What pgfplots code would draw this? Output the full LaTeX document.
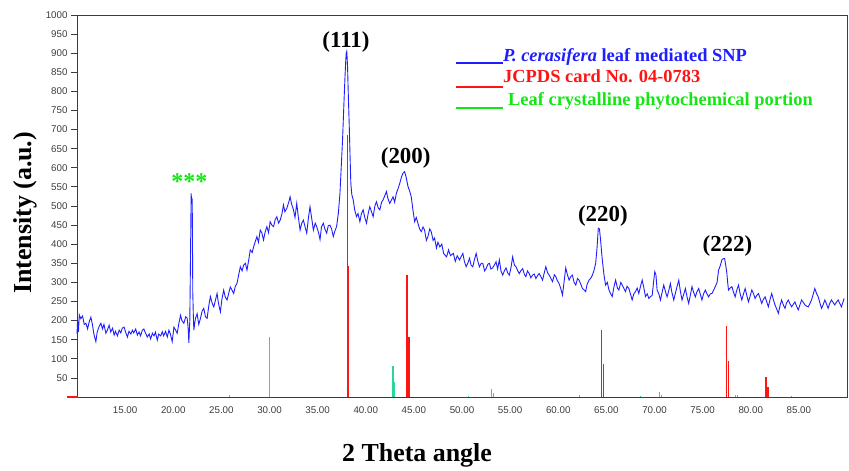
\documentclass[border=0pt]{standalone}
\usepackage{pgfplots}
\pgfplotsset{compat=1.18}
\usepackage{fontspec}
\setmainfont{Liberation Serif}
\newfontfamily\arial{Liberation Sans}
\definecolor{xrdblue}{RGB}{30,30,255}
\definecolor{jcred}{RGB}{255,20,20}
\definecolor{leafteal}{RGB}{40,215,150}
\definecolor{leafgreen}{RGB}{20,230,20}
\definecolor{axgray}{RGB}{60,60,60}
\begin{document}
\begin{tikzpicture}
\path[use as bounding box] (-77bp,-74bp) rectangle (772bp,397bp);
\begin{axis}[
    at={(0,0)}, anchor=south west,
    scale only axis, width=770bp, height=382bp,
    xmin=10, xmax=90, ymin=0, ymax=1000,
    xtick={15,20,...,85}, ytick={50,100,...,1000},
    clip=false,
    axis line style={draw=axgray, line width=0.8bp},
    tick align=outside, ytick pos=left, xtick pos=bottom,
    major tick length=6bp,
    ytick style={axgray, line width=0.8bp},
    xtick style={draw=none},
    /pgf/number format/assume math mode=true,
    /pgf/number format/1000 sep={},
    tick label style={font=\arial\fontsize{9.8}{11}\selectfont, text=axgray},
    xticklabel style={/pgf/number format/.cd, fixed, fixed zerofill, precision=2},
    xlabel={\textbf{2 Theta angle}},
    ylabel={\textbf{Intensity (a.u.)}},
    label style={font=\fontsize{26}{28}\selectfont},
    xlabel style={at={(axis description cs:0.4416,-0.152)}, anchor=center},
    ylabel style={at={(axis description cs:-0.0675,0.482)}, anchor=center},
]

% P. cerasifera leaf mediated SNP
\addplot[xrdblue, line width=0.9bp] coordinates {
(10.0,165)(10.06,201)(10.15,170)(10.24,215)(10.4,205)(10.58,212)(10.75,190)(10.93,193)
(11.1,178)(11.25,195)(11.44,209)(11.6,190)(11.75,165)(11.96,145)(12.1,170)(12.3,185)
(12.48,193)(12.65,178)(12.8,190)(13.0,167)(13.15,175)(13.34,188)(13.5,170)(13.7,180)
(13.86,162)(14.0,172)(14.2,160)(14.38,175)(14.55,168)(14.7,180)(14.89,183)(15.05,170)
(15.24,157)(15.4,172)(15.6,165)(15.76,175)(15.9,168)(16.1,178)(16.27,162)(16.45,170)
(16.6,160)(16.79,175)(16.95,178)(17.1,168)(17.31,157)(17.5,165)(17.65,152)(17.83,167)
(18.0,160)(18.15,170)(18.34,149)(18.5,165)(18.7,160)(18.86,171)(19.0,160)(19.2,172)
(19.38,157)(19.55,175)(19.7,165)(19.89,145)(20.07,183)(20.25,175)(20.41,167)(20.6,195)
(20.76,214)(20.9,200)(21.1,193)(21.3,210)(21.45,206)(21.55,180)(21.62,142)(21.72,200)
(21.79,358)(21.86,533)(21.92,505)(21.97,520)(22.03,272)(22.08,220)(22.14,175)(22.3,205)
(22.48,218)(22.65,190)(22.83,206)(23.0,225)(23.17,232)(23.35,210)(23.52,206)(23.7,240)
(23.86,263)(24.05,245)(24.21,236)(24.4,255)(24.55,271)(24.7,245)(24.9,223)(25.05,255)
(25.24,280)(25.4,262)(25.59,254)(25.75,270)(25.93,288)(26.1,280)(26.28,271)(26.45,290)
(26.62,297)(26.8,320)(26.97,341)(27.15,330)(27.31,345)(27.5,350)(27.66,332)(27.85,360)
(28.0,385)(28.2,378)(28.35,393)(28.5,405)(28.69,420)(28.85,405)(29.04,437)(29.2,430)
(29.38,411)(29.55,432)(29.73,446)(29.9,430)(30.07,459)(30.25,450)(30.42,446)(30.6,465)
(30.76,472)(30.95,455)(31.11,463)(31.3,480)(31.45,503)(31.6,485)(31.8,494)(32.0,510)
(32.14,524)(32.3,505)(32.49,490)(32.65,470)(32.83,507)(33.0,470)(33.18,437)(33.35,455)
(33.52,463)(33.7,445)(33.87,429)(34.05,470)(34.21,498)(34.4,465)(34.56,437)(34.75,455)
(34.9,446)(35.1,430)(35.25,412)(35.4,445)(35.59,455)(35.75,440)(35.94,429)(36.1,448)
(36.28,450)(36.45,440)(36.63,420)(36.8,435)(36.97,446)(37.15,480)(37.32,533)(37.45,600)
(37.59,673)(37.72,760)(37.83,830)(37.92,880)(37.97,900)(38.03,905)(38.11,865)(38.2,780)
(38.28,716)(38.36,640)(38.45,559)(38.55,530)(38.7,516)(38.85,490)(39.04,472)(39.2,480)
(39.39,459)(39.55,480)(39.73,490)(39.9,470)(40.08,455)(40.25,480)(40.42,498)(40.6,485)
(40.77,472)(40.95,500)(41.11,511)(41.3,495)(41.46,490)(41.65,510)(41.8,516)(41.95,525)
(42.15,538)(42.3,520)(42.49,507)(42.65,515)(42.84,524)(43.0,510)(43.18,533)(43.35,545)
(43.53,559)(43.7,575)(43.87,586)(44.04,590)(44.2,575)(44.39,551)(44.55,540)(44.73,524)
(44.9,490)(45.08,459)(45.25,470)(45.42,455)(45.6,440)(45.77,433)(45.95,445)(46.11,437)
(46.3,410)(46.46,420)(46.65,440)(46.8,433)(47.0,410)(47.15,416)(47.35,390)(47.5,405)
(47.7,393)(47.9,400)(48.1,375)(48.4,367)(48.6,385)(48.8,370)(49.1,376)(49.3,355)
(49.5,370)(49.74,359)(50.09,376)(50.25,355)(50.43,341)(50.6,350)(50.78,363)(50.95,345)
(51.12,341)(51.3,360)(51.47,376)(51.65,355)(51.81,341)(52.0,350)(52.16,350)(52.35,330)
(52.5,336)(52.7,348)(52.85,350)(53.0,335)(53.19,338)(53.35,345)(53.54,354)(53.7,335)
(53.88,359)(54.05,330)(54.23,319)(54.4,330)(54.57,338)(54.75,325)(54.92,319)(55.1,340)
(55.26,367)(55.45,345)(55.61,341)(55.8,330)(55.95,323)(56.1,330)(56.3,336)(56.5,320)
(56.64,315)(56.8,330)(56.99,323)(57.15,312)(57.33,319)(57.5,322)(57.68,310)(57.85,318)
(58.02,323)(58.2,315)(58.37,306)(58.55,325)(58.71,341)(58.9,325)(59.06,319)(59.25,310)
(59.4,302)(59.6,320)(59.75,315)(59.9,305)(60.09,297)(60.25,285)(60.44,267)(60.6,300)
(60.78,338)(60.95,320)(61.13,306)(61.3,315)(61.47,319)(61.65,300)(61.82,293)(62.0,310)
(62.16,306)(62.35,295)(62.51,284)(62.7,280)(62.85,276)(63.0,295)(63.2,306)(63.4,312)
(63.54,319)(63.7,330)(63.89,350)(64.03,390)(64.16,442)(64.28,440)(64.4,411)(64.5,380)
(64.58,359)(64.75,320)(64.92,293)(65.1,300)(65.27,280)(65.45,270)(65.61,263)(65.8,290)
(65.96,306)(66.15,285)(66.3,280)(66.5,300)(66.65,293)(66.8,285)(66.99,276)(67.15,290)
(67.34,284)(67.5,270)(67.68,254)(67.85,270)(68.03,276)(68.2,285)(68.37,271)(68.55,290)
(68.72,306)(68.9,285)(69.06,263)(69.25,270)(69.41,258)(69.6,263)(69.76,266)(69.9,300)
(70.03,328)(70.15,320)(70.27,280)(70.45,270)(70.62,254)(70.8,275)(70.96,293)(71.15,275)
(71.31,262)(71.5,280)(71.65,297)(71.8,275)(72.0,254)(72.25,280)(72.52,306)(72.7,275)
(72.86,254)(73.05,270)(73.21,284)(73.4,260)(73.55,245)(73.75,270)(73.9,289)(74.05,275)
(74.24,262)(74.4,275)(74.59,284)(74.75,270)(74.93,254)(75.1,270)(75.28,280)(75.45,270)
(75.62,262)(75.8,270)(75.97,271)(76.15,280)(76.31,289)(76.5,300)(76.66,332)(76.85,345)
(77.0,359)(77.15,362)(77.28,363)(77.4,345)(77.52,324)(77.6,300)(77.69,280)(77.85,285)
(78.04,289)(78.2,275)(78.38,262)(78.55,280)(78.73,293)(78.9,270)(79.07,254)(79.25,270)
(79.42,284)(79.6,265)(79.76,249)(79.95,265)(80.11,280)(80.3,270)(80.45,258)(80.6,265)
(80.8,271)(80.95,260)(81.14,245)(81.3,255)(81.49,262)(81.65,250)(81.83,236)(82.0,255)
(82.18,271)(82.35,255)(82.52,241)(82.7,230)(82.87,219)(83.05,240)(83.21,254)(83.4,240)
(83.56,232)(83.7,245)(83.9,254)(84.05,245)(84.25,236)(84.4,242)(84.59,249)(84.75,238)
(84.94,228)(85.1,240)(85.28,254)(85.45,248)(85.63,241)(85.8,238)(85.97,236)(86.15,245)
(86.32,254)(86.5,270)(86.66,284)(86.85,270)(87.01,262)(87.2,245)(87.35,232)(87.5,240)
(87.7,254)(87.85,245)(88.04,232)(88.2,245)(88.39,254)(88.55,248)(88.73,241)(88.9,248)
(89.08,254)(89.25,245)(89.42,236)(89.6,250)(89.7,258)
};

% JCPDS card No. 04-0783
\addplot[jcred, line width=1.4bp, ycomb] coordinates {
(38.12,686)(38.22,343)(44.28,319)(44.49,158)(64.47,175)(64.68,86)
(77.45,186)(77.66,94)(81.59,53)(81.8,27)
};
\addplot[jcred, line width=2.5bp] coordinates {(9.0,0)(10.1,0)};

% Leaf crystalline phytochemical portion
\addplot[leafteal, line width=1.2bp, ycomb] coordinates {
(25.86,5)(30.0,156)(42.84,81)(42.94,40)(50.67,3)(53.09,20)(53.26,10)
(62.24,6)(68.55,3)(70.52,14)(70.7,6)(78.38,6)(78.6,4)(84.25,3)
};

% peak labels
\node[font=\bfseries\fontsize{23}{24}\selectfont] at (axis cs:37.95,929) {(111)};
\node[font=\bfseries\fontsize{23}{24}\selectfont] at (axis cs:44.15,626) {(200)};
\node[font=\bfseries\fontsize{23}{24}\selectfont] at (axis cs:64.64,474) {(220)};
\node[font=\bfseries\fontsize{23}{24}\selectfont] at (axis cs:77.58,395) {(222)};
\node[anchor=base, text=leafgreen, font=\bfseries\fontsize{24}{26}\selectfont] at (axis cs:21.67,542) {***};

% legend
\draw[xrdblue, line width=1.5bp] (rel axis cs:0.4922,0.8743) -- (rel axis cs:0.5532,0.8743);
\draw[jcred, line width=1.5bp] (rel axis cs:0.4922,0.8115) -- (rel axis cs:0.5532,0.8115);
\draw[leafgreen, line width=1.5bp] (rel axis cs:0.4922,0.7565) -- (rel axis cs:0.5532,0.7565);
\node[anchor=base west, inner sep=0, text=xrdblue, font=\bfseries\fontsize{18.5}{20}\selectfont]
  at (rel axis cs:0.5532,0.877) {\textit{P. cerasifera} leaf mediated SNP};
\node[anchor=base west, inner sep=0, text=jcred, font=\bfseries\fontsize{18.5}{20}\selectfont]
  at (rel axis cs:0.5532,0.822) {JCPDS card No. 04-0783};
\node[anchor=base west, inner sep=0, text=leafgreen, font=\bfseries\fontsize{18.5}{20}\selectfont]
  at (rel axis cs:0.5597,0.7618) {Leaf crystalline phytochemical portion};
\end{axis}
\end{tikzpicture}
\end{document}
